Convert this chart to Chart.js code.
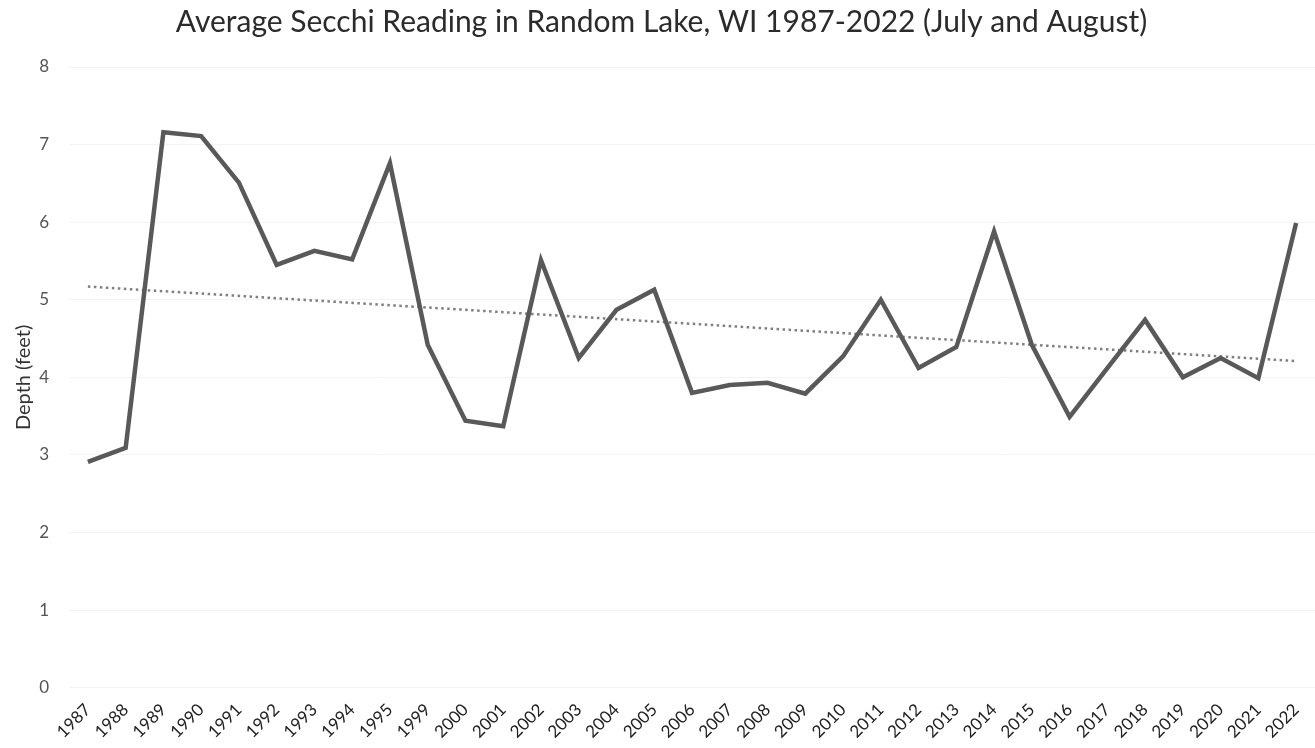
<!DOCTYPE html>
<html>
<head>
<meta charset="utf-8">
<script src="https://cdn.jsdelivr.net/npm/chart.js@4"></script>
<style>
  html, body { margin: 0; padding: 0; background: #fff; }
  #wrap { width: 1315px; height: 748px; }
</style>
</head>
<body>
<div id="wrap"><canvas id="secchiChart"></canvas></div>
<script>
// years sampled (1996-1998 missing in the record)
const years = ["1987", "1988", "1989", "1990", "1991", "1992", "1993", "1994", "1995",
  "1999", "2000", "2001", "2002", "2003", "2004", "2005", "2006", "2007", "2008",
  "2009", "2010", "2011", "2012", "2013", "2014", "2015", "2016", "2017", "2018",
  "2019", "2020", "2021", "2022"];

// average secchi depth (feet), July + August
const secchiDepth = [2.91, 3.09, 7.16, 7.11, 6.51, 5.45, 5.63, 5.52, 6.76,
  4.42, 3.44, 3.37, 5.51, 4.25, 4.87, 5.13, 3.80, 3.90, 3.93,
  3.79, 4.27, 5.00, 4.12, 4.39, 5.88, 4.42, 3.49, 4.12, 4.74,
  4.00, 4.25, 3.99, 5.99];

// linear trend line, end points
const trendStart = 5.17;
const trendEnd = 4.21;
const trendLine = years.map((y, i) => (i === 0 ? trendStart : i === years.length - 1 ? trendEnd : null));

const yTicks = [0, 1, 2, 3, 4, 5, 6, 7, 8];

const ctx = document.getElementById("secchiChart").getContext("2d");
new Chart(ctx, {
  type: "line",
  data: {
    labels: years,
    datasets: [
      {
        label: "Average Secchi",
        data: secchiDepth,
        borderColor: "#595959",
        borderWidth: 4.5,
        pointRadius: 0,
        tension: 0,
      },
      {
        label: "Linear trend",
        data: trendLine,
        borderColor: "#7f7f7f",
        borderWidth: 2.5,
        borderDash: [2.5, 3.5],
        pointRadius: 0,
        spanGaps: true,
      },
    ],
  },
  options: {
    responsive: true,
    maintainAspectRatio: false,
    animation: false,
    layout: { autoPadding: false, padding: { left: 8, right: 0, top: 4, bottom: 2 } },
    plugins: {
      legend: { display: false },
      tooltip: { enabled: false },
      title: {
        display: true,
        text: "Average Secchi Reading in Random Lake, WI 1987-2022 (July and August)",
        color: "#2b2b2b",
        font: { family: "Lato", size: 30, weight: "normal" },
        padding: { top: 0, bottom: 27 },
      },
    },
    scales: {
      x: {
        offset: true,
        grid: { display: false },
        border: { display: false },
        ticks: {
          color: "#222",
          font: { family: "Lato", size: 17 },
          maxRotation: 45,
          minRotation: 45,
          autoSkip: false,
          padding: 4,
        },
      },
      y: {
        min: 0,
        max: 8,
        afterBuildTicks: (axis) => {
          axis.ticks = yTicks.map((v) => ({ value: v }));
        },
        // keep the axis narrow so the plot starts where the original does
        afterFit: (axis) => {
          axis.width = 61;
        },
        grid: { color: "#f3f3f3", lineWidth: 1, drawTicks: false },
        border: { display: false },
        ticks: {
          color: "#555",
          font: { family: "Lato", size: 17 },
          padding: 20,
        },
        title: {
          display: true,
          text: "Depth (feet)",
          color: "#333",
          font: { family: "Lato", size: 20 },
          padding: { top: 4, bottom: 3 },
        },
      },
    },
  },
});
</script>
</body>
</html>
